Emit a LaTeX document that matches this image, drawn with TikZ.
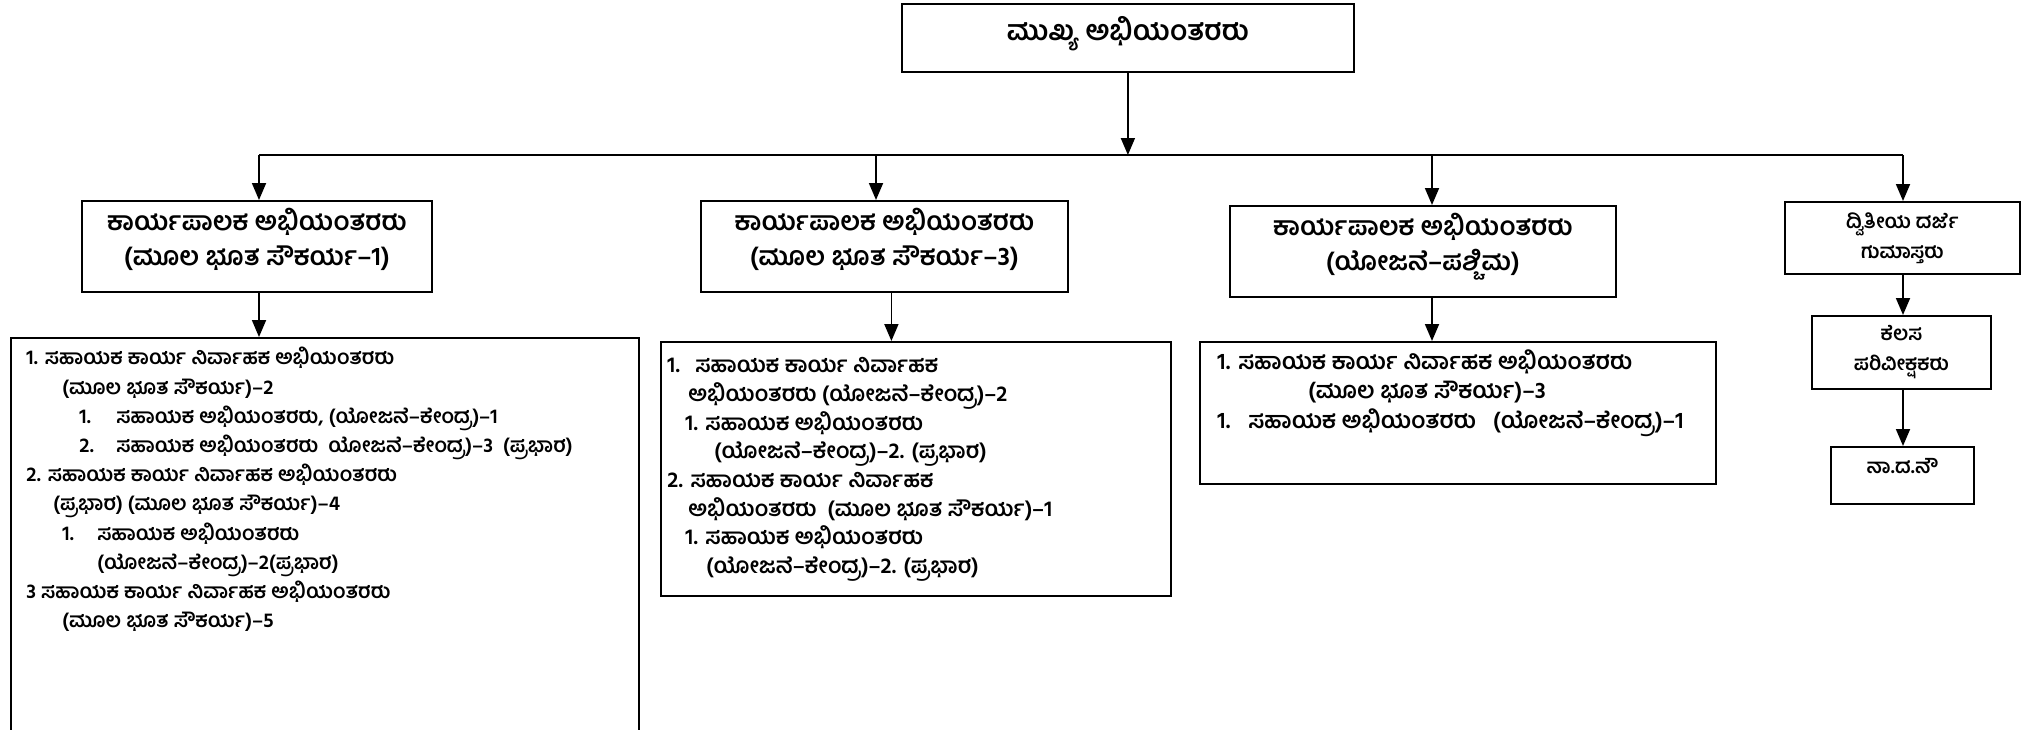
\documentclass[tikz,border=0pt]{standalone}
\usepackage{fontspec}
\newfontfamily\kan[Script=Kannada]{Hind Mysuru}
\usetikzlibrary{arrows.meta,positioning}
\tikzset{
  box/.style={draw, line width=0.9pt, inner sep=0pt, align=center, anchor=north west,
    font=\kan\bfseries\fontsize{10}{15}\selectfont},
  headbox/.style={box, text depth=10pt, font=\kan\bfseries\fontsize{13}{17.5}\selectfont},
  listbox/.style={draw, line width=0.9pt, inner sep=0pt, anchor=north west},
  listtext/.style={inner sep=0pt, anchor=north west, align=left,
    font=\kan\bfseries\fontsize{11}{14.6}\selectfont},
  arr/.style={line width=0.9pt, -{Triangle[length=8.5pt,width=7pt]}},
}
\newcommand{\nr}[2]{\makebox[#1][l]{#2}}
\begin{document}
\begin{tikzpicture}[x=0.5pt, y=-0.5pt]
  \useasboundingbox (0,0) rectangle (2028,729);
  % top
  \node[box, font=\kan\bfseries\fontsize{14}{18}\selectfont, text depth=9pt,
    minimum width=226pt, minimum height=34pt] (chief) at (901,3) {ಮುಖ್ಯ ಅಭಿಯಂತರರು};
  % second row
  \node[headbox, minimum width=175pt, minimum height=45.5pt] (ee1) at (81,200)
    {ಕಾರ್ಯಪಾಲಕ ಅಭಿಯಂತರರು\\(ಮೂಲ ಭೂತ ಸೌಕರ್ಯ–1)};
  \node[headbox, minimum width=183.5pt, minimum height=45.5pt] (ee2) at (700,200)
    {ಕಾರ್ಯಪಾಲಕ ಅಭಿಯಂತರರು\\(ಮೂಲ ಭೂತ ಸೌಕರ್ಯ–3)};
  \node[headbox, minimum width=193pt, minimum height=45.5pt] (ee3) at (1229,205)
    {ಕಾರ್ಯಪಾಲಕ ಅಭಿಯಂತರರು\\(ಯೋಜನೆ–ಪಶ್ಚಿಮ)};
  \node[box, minimum width=117.5pt, minimum height=36pt] (sdc) at (1784,201)
    {ದ್ವಿತೀಯ ದರ್ಜೆ\\ಗುಮಾಸ್ತರು};
  % lists
  \node[listbox, minimum width=314pt, minimum height=205pt] (list1) at (10,337) {};
  \node[listtext, font=\kan\bfseries\fontsize{10.2}{14.6}\selectfont] (list1txt) at (26,347) {%
    1. ಸಹಾಯಕ ಕಾರ್ಯ ನಿರ್ವಾಹಕ ಅಭಿಯಂತರರು\\
    \hspace*{18pt}(ಮೂಲ ಭೂತ ಸೌಕರ್ಯ)–2\\
    \hspace*{26.5pt}\nr{18.5pt}{1.}ಸಹಾಯಕ ಅಭಿಯಂತರರು, (ಯೋಜನೆ–ಕೇಂದ್ರ)–1\\
    \hspace*{26.5pt}\nr{18.5pt}{2.}ಸಹಾಯಕ ಅಭಿಯಂತರರು\ \ ಯೋಜನೆ–ಕೇಂದ್ರ)–3\ \ (ಪ್ರಭಾರ)\\
    2. ಸಹಾಯಕ ಕಾರ್ಯ ನಿರ್ವಾಹಕ ಅಭಿಯಂತರರು\\
    \hspace*{13.5pt}(ಪ್ರಭಾರ) (ಮೂಲ ಭೂತ ಸೌಕರ್ಯ)–4\\
    \hspace*{18pt}\nr{17.5pt}{1.}ಸಹಾಯಕ ಅಭಿಯಂತರರು\\
    \hspace*{35.5pt}(ಯೋಜನೆ–ಕೇಂದ್ರ)–2(ಪ್ರಭಾರ)\\
    3 ಸಹಾಯಕ ಕಾರ್ಯ ನಿರ್ವಾಹಕ ಅಭಿಯಂತರರು\\
    \hspace*{18pt}(ಮೂಲ ಭೂತ ಸೌಕರ್ಯ)–5};
  \node[listbox, minimum width=255pt, minimum height=127pt] (list2) at (660,341) {};
  \node[listtext, font=\kan\bfseries\fontsize{11}{14.35}\selectfont] (list2txt) at (667,357) {%
    \nr{14pt}{1.}ಸಹಾಯಕ ಕಾರ್ಯ ನಿರ್ವಾಹಕ\\
    \hspace*{10.5pt}ಅಭಿಯಂತರರು (ಯೋಜನೆ–ಕೇಂದ್ರ)–2\\
    \hspace*{9pt}1. ಸಹಾಯಕ ಅಭಿಯಂತರರು\\
    \hspace*{23.5pt}(ಯೋಜನೆ–ಕೇಂದ್ರ)–2. (ಪ್ರಭಾರ)\\
    2. ಸಹಾಯಕ ಕಾರ್ಯ ನಿರ್ವಾಹಕ\\
    \hspace*{10.5pt}ಅಭಿಯಂತರರು\ \ (ಮೂಲ ಭೂತ ಸೌಕರ್ಯ)–1\\
    \hspace*{9pt}1. ಸಹಾಯಕ ಅಭಿಯಂತರರು\\
    \hspace*{19.5pt}(ಯೋಜನೆ–ಕೇಂದ್ರ)–2. (ಪ್ರಭಾರ)};
  \node[listbox, minimum width=258pt, minimum height=71pt] (list3) at (1199,341) {};
  \node[listtext, font=\kan\bfseries\fontsize{11.5}{14.8}\selectfont] (list3txt) at (1217,349) {%
    \nr{10.5pt}{1.}ಸಹಾಯಕ ಕಾರ್ಯ ನಿರ್ವಾಹಕ ಅಭಿಯಂತರರು\\
    \hspace*{45.5pt}(ಮೂಲ ಭೂತ ಸೌಕರ್ಯ)–3\\
    \nr{15.5pt}{1.}ಸಹಾಯಕ ಅಭಿಯಂತರರು\ \ \ (ಯೋಜನೆ–ಕೇಂದ್ರ)–1};
  % right column
  \node[box, minimum width=89.5pt, minimum height=36.5pt] (ws) at (1811,315)
    {ಕೆಲಸ\\ಪರಿವೀಕ್ಷಕರು};
  \node[box, text depth=9pt, minimum width=71.5pt, minimum height=28.5pt] (grpd) at (1830,446)
    {ನಾ.ದ.ನೌ};
  % connectors
  \coordinate (busL) at (259,155);
  \coordinate (busR) at (1903,155);
  \coordinate (b2) at (876,155);
  \coordinate (b3) at (1432,155);
  \draw[line width=0.9pt] (busL) -- (busR);
  \draw[arr] (chief) -- (chief |- busL);
  \draw[arr] (busL) -- (busL |- ee1.north);
  \draw[arr] (b2) -- (b2 |- ee2.north);
  \draw[arr] (b3) -- (b3 |- ee3.north);
  \draw[arr] (busR) -- (busR |- sdc.north);
  \draw[arr] (busL |- ee1.south) -- (busL |- list1.north);
  \draw[arr] ([xshift=3.5pt]ee2.south) -- ([xshift=3.5pt]ee2.south |- list2.north);
  \draw[arr] (b3 |- ee3.south) -- (b3 |- list3.north);
  \draw[arr] (busR |- sdc.south) -- (busR |- ws.north);
  \draw[arr] (busR |- ws.south) -- (busR |- grpd.north);
\end{tikzpicture}
\end{document}
